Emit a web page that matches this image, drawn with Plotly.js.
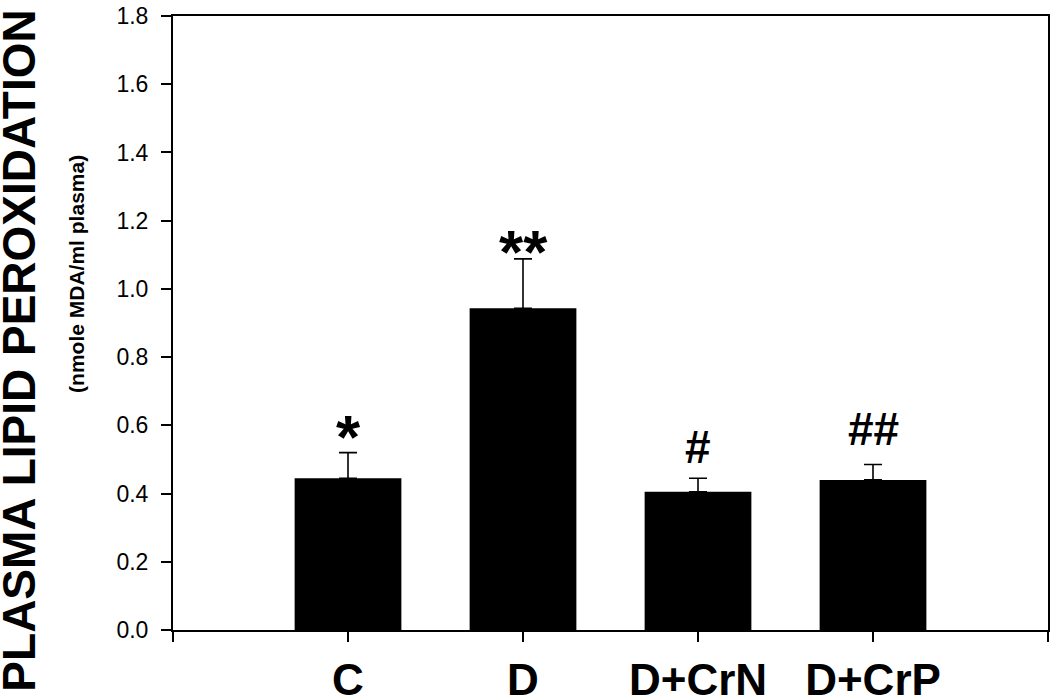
<!DOCTYPE html>
<html>
<head>
<meta charset="utf-8">
<script src="https://cdn.plot.ly/plotly-3.0.1.min.js"></script>
<style>html,body{margin:0;padding:0;background:#fff;}#chart{width:1050px;height:699px;}</style>
</head>
<body>
<div id="chart"></div>
<script>
const categories = ['C', 'D', 'D+CrN', 'D+CrP'];
const means = [0.445, 0.943, 0.405, 0.44];
const errors = [0.075, 0.145, 0.04, 0.045];
const marks = ['*', '**', '#', '##'];
const markSize = [62, 62, 46, 46];
const markShift = [16, 7, 31, 36];

const FONT = 'Liberation Sans, Arial, sans-serif';
const positions = categories.map((c, i) => i);

const trace = {
  type: 'bar',
  x: positions,
  y: means,
  width: 0.61,
  marker: {color: '#000', line: {color: '#000', width: 0}},
  error_y: {type: 'data', symmetric: false, array: errors, arrayminus: errors.map(() => 0),
            color: '#000', thickness: 1.6, width: 9},
  hoverinfo: 'skip'
};

const annotations = marks.map((m, i) => ({
  x: positions[i], y: means[i] + errors[i], xref: 'x', yref: 'y',
  text: '<b>' + m + '</b>', showarrow: false, yanchor: 'middle', xanchor: 'center',
  yshift: markShift[i], font: {family: FONT, size: markSize[i], color: '#000'}
}));

annotations.push({
  x: 0, y: 0.455, xref: 'paper', yref: 'paper', xanchor: 'center', yanchor: 'middle',
  xshift: -154, textangle: -90, showarrow: false,
  text: '<b>PLASMA LIPID PEROXIDATION</b>', font: {family: FONT, size: 46, color: '#000'}
});
annotations.push({
  x: 0, y: 0.58, xref: 'paper', yref: 'paper', xanchor: 'center', yanchor: 'middle',
  xshift: -96, textangle: -90, showarrow: false,
  text: '<b>(nmole MDA/ml plasma)</b>', font: {family: FONT, size: 21, color: '#000'}
});

const layout = {
  width: 1050, height: 699,
  margin: {l: 173, r: 2, t: 16, b: 69, pad: 0},
  paper_bgcolor: '#fff', plot_bgcolor: '#fff',
  showlegend: false,
  xaxis: {
    range: [-1, 4], tickvals: [-1].concat(positions, [4]),
    ticktext: [''].concat(categories.map(c => '<b>' + c + '</b>'), ['']),
    ticks: 'outside', ticklen: 10, tickwidth: 2, tickcolor: '#000',
    showline: true, linewidth: 2, linecolor: '#000', mirror: true,
    showgrid: false, zeroline: false, ticklabelstandoff: 0,
    tickfont: {family: FONT, size: 44, color: '#000'}, fixedrange: true
  },
  yaxis: {
    range: [0, 1.8], tick0: 0, dtick: 0.2, tickformat: '.1f',
    ticks: 'outside', ticklen: 10, tickwidth: 2, tickcolor: '#000',
    showline: true, linewidth: 2, linecolor: '#000', mirror: true,
    showgrid: false, zeroline: false, ticklabelstandoff: 8,
    tickfont: {family: FONT, size: 23, color: '#000'}, fixedrange: true
  },
  annotations: annotations
};

Plotly.newPlot('chart', [trace], layout, {displayModeBar: false, staticPlot: true});
</script>
</body>
</html>
